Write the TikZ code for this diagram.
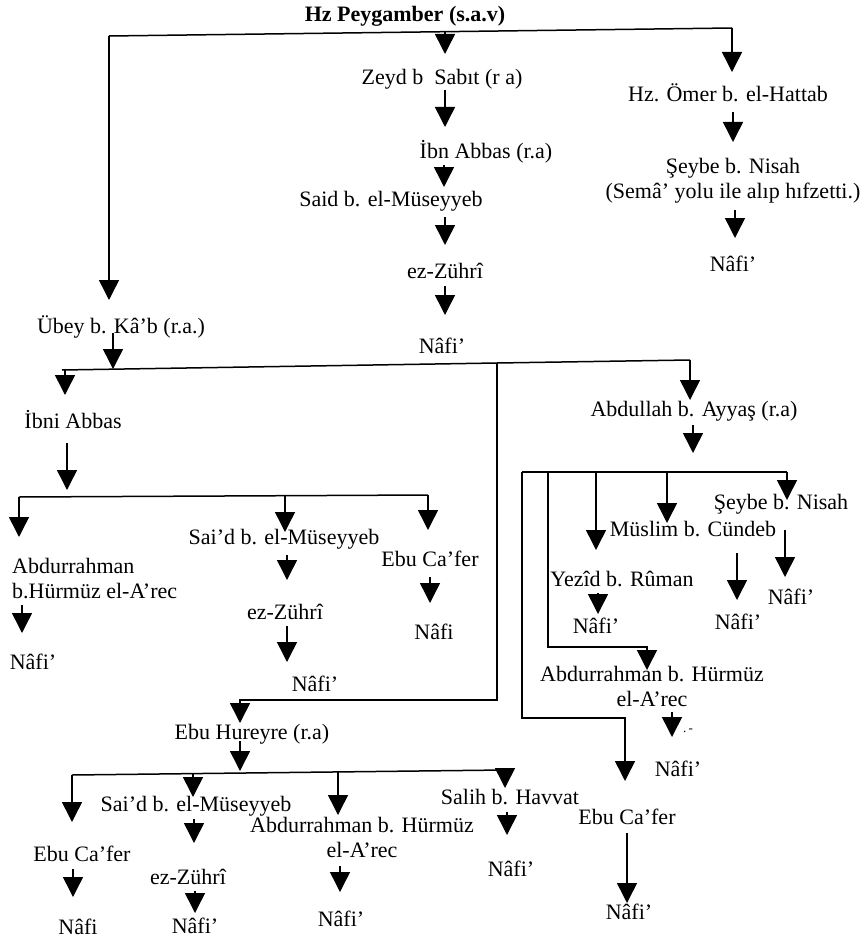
\documentclass[tikz,border=0pt]{standalone}
\usepackage{fontspec}
\setmainfont{Liberation Serif}
\usetikzlibrary{arrows.meta}
\newcommand{\vconn}[4]{%
  \coordinate (#1a) at (#2,#3);
  \coordinate (#1b) at (#2,#4);
  \draw[arr] (#1a) -- (#1b);}
\begin{document}
\begin{tikzpicture}[x=1pt,y=-1pt,
  font=\fontsize{22}{25}\selectfont,
  lbl/.style={inner sep=0pt, text height=15pt, text depth=2pt, anchor=center},
  lbltwo/.style={inner sep=0pt, align=center, anchor=center},
  lblleft/.style={inner sep=0pt, align=left, anchor=west},
  ln/.style={line width=1.5pt},
  arr/.style={line width=1.5pt, -{Triangle[width=20pt,length=20pt]}}]
\path[use as bounding box] (0,0) rectangle (864,939);

% ---------- top ----------
\node[lbl, font=\fontsize{22}{25}\selectfont\bfseries] (hz) at (405,15) {Hz Peygamber (s.a.v)};
\coordinate (tL) at (109,36);
\coordinate (tM) at (445,32);
\coordinate (tR) at (732,28);
\draw[ln] (tL) -- (tR);
\coordinate (ubeyIn) at (109,300);
\draw[arr] (tL) -- (ubeyIn);
\coordinate (zeydIn) at (445,54);
\draw[arr] (tM) -- (zeydIn);
\coordinate (omerIn) at (732,72);
\draw[arr] (tR) -- (omerIn);

% middle column
\node[lbl] (zeyd) at (442,78) {Zeyd b\ \ Sabıt (r a)};
\vconn{m1}{445}{90}{127}
\node[lbl] (ibnabbas) at (486,152) {İbn Abbas (r.a)};
\vconn{m2}{444}{165}{187}
\node[lbl] (said) at (391,200) {Said b. el-Müseyyeb};
\vconn{m3}{445}{217}{245}
\node[lbl] (zuhriA) at (445,272) {ez-Zührî};
\vconn{m4}{445}{286}{315}
\node[lbl] (nafiA) at (442,347) {Nâfi’};

% right column
\node[lbl] (omer) at (728,95) {Hz. Ömer b. el-Hattab};
\vconn{r1}{733}{112}{142}
\node[lbltwo] (seybeA) at (733,181) {Şeybe b. Nisah\\(Semâ’ yolu ile alıp hıfzetti.)};
\vconn{r2}{735}{210}{238}
\node[lbl] (nafiB) at (733,265) {Nâfi’};

% ---------- Ubey ----------
\node[lbl] (ubey) at (121,327) {Übey b. Kâ’b (r.a.)};
\vconn{u1}{113}{333}{369}
\coordinate (bL) at (62,370);
\coordinate (bM) at (497,363);
\coordinate (bR) at (690,360);
\draw[ln] (bL) -- (bM) -- (bR);
\coordinate (ayyasIn) at (690,400);
\draw[arr] (bR) -- (ayyasIn);

% left branch: Ibni Abbas
\coordinate (ibniTop) at (65,370);
\coordinate (ibniIn) at (65,395);
\draw[arr] (ibniTop) -- (ibniIn);
\node[lbl] (ibni) at (73,422) {İbni Abbas};
\vconn{l1}{67}{443}{490}
\coordinate (cL) at (19,497);
\coordinate (cM) at (285,496);
\coordinate (cR) at (428,495);
\draw[ln] (cL) -- (cR);
\coordinate (abdrAIn) at (19,537);
\draw[arr] (cL) -- (abdrAIn);
\coordinate (saidBIn) at (285,532);
\draw[arr] (cM) -- (saidBIn);
\coordinate (cafAIn) at (428,530);
\draw[arr] (cR) -- (cafAIn);

\node[lblleft] (abdrA) at (12,579) {Abdurrahman\\b.Hürmüz el-A’rec};
\vconn{l2}{22}{605}{633}
\node[lbl] (nafiC) at (33,663) {Nâfi’};

\node[lbl] (saidB) at (284,538) {Sai’d b. el-Müseyyeb};
\vconn{l3}{287}{555}{580}
\node[lbl] (zuhriB) at (285,613) {ez-Zührî};
\vconn{l4}{287}{626}{662}
\node[lbl] (nafiD) at (315,685) {Nâfi’};

\node[lbl] (cafA) at (430,560) {Ebu Ca’fer};
\vconn{l5}{430}{577}{603}
\node[lbl] (nafiE) at (434,633) {Nâfi};

% Ebu Hureyre branch
\coordinate (hV) at (497,700);
\coordinate (hH) at (240,700);
\coordinate (hureyreIn) at (240,723);
\draw[arr] (bM) -- (hV) -- (hH) -- (hureyreIn);
\node[lbl] (hureyre) at (252,733) {Ebu Hureyre (r.a)};
\vconn{h1}{240}{741}{771}
\coordinate (dL) at (72,775);
\coordinate (dA) at (193,774);
\coordinate (dB) at (338,772);
\coordinate (dR) at (505,770);
\draw[ln] (dL) -- (dR);
\coordinate (cafBIn) at (72,822);
\draw[arr] (dL) -- (cafBIn);
\coordinate (saidCIn) at (193,797);
\draw[arr] (dA) -- (saidCIn);
\coordinate (abdrBIn) at (338,815);
\draw[arr] (dB) -- (abdrBIn);
\coordinate (salihIn) at (505,788);
\draw[arr] (dR) -- (salihIn);

\node[lbl] (cafB) at (82,855) {Ebu Ca’fer};
\vconn{h2}{73}{869}{897}
\node[lbl] (nafiF) at (78,928) {Nâfi};

\node[lbl] (saidC) at (196,805) {Sai’d b. el-Müseyyeb};
\vconn{h3}{194}{819}{843}
\node[lbl] (zuhriC) at (188,878) {ez-Zührî};
\vconn{h4}{195}{891}{913}
\node[lbl] (nafiG) at (195,927) {Nâfi’};

\node[lbltwo] (abdrB) at (362,837) {Abdurrahman b. Hürmüz\\el-A’rec};
\vconn{h5}{340}{866}{892}
\node[lbl] (nafiH) at (341,920) {Nâfi’};

\node[lbl] (salih) at (510,798) {Salih b. Havvat};
\vconn{h6}{507}{812}{835}
\node[lbl] (nafiI) at (511,870) {Nâfi’};

% ---------- Abdullah b. Ayyas ----------
\node[lbl] (ayyas) at (694,410) {Abdullah b. Ayyaş (r.a)};
\vconn{a1}{693}{425}{453}
\coordinate (eA) at (522,472);
\coordinate (eB) at (548,472);
\coordinate (eC) at (596,472);
\coordinate (eD) at (667,472);
\coordinate (eE) at (787,472);
\draw[ln] (eA) -- (eE);

% far left: Ebu Ca'fer
\coordinate (eA1) at (522,718);
\coordinate (eA2) at (625,718);
\coordinate (cafCIn) at (625,781);
\draw[arr] (eA) -- (eA1) -- (eA2) -- (cafCIn);
\node[lbl] (cafC) at (627,818) {Ebu Ca’fer};
\vconn{e1}{627}{833}{903}
\node[lbl] (nafiJ) at (629,913) {Nâfi’};

% Abdurrahman b. Hurmuz
\coordinate (eB1) at (548,647);
\coordinate (eB2) at (647,647);
\coordinate (abdrCIn) at (647,670);
\draw[arr] (eB) -- (eB1) -- (eB2) -- (abdrCIn);
\node[lbltwo] (abdrC) at (652,686) {Abdurrahman b. Hürmüz\\el-A’rec};
\vconn{e2}{672}{712}{737}
\node[inner sep=0pt, font=\fontsize{13}{14}\selectfont] (mark) at (688,731) {.\,-};
\node[lbl] (nafiK) at (678,770) {Nâfi’};

% Yezid b. Ruman
\coordinate (yezidIn) at (596,550);
\draw[arr] (eC) -- (yezidIn);
\node[lbl] (yezid) at (622,580) {Yezîd b. Rûman};
\vconn{e3}{598}{593}{614}
\node[lbl] (nafiL) at (596,627) {Nâfi’};

% Muslim b. Cundeb
\coordinate (muslimIn) at (667,523);
\draw[arr] (eD) -- (muslimIn);
\node[lbl] (muslim) at (693,530) {Müslim b. Cündeb};
\vconn{e4}{737}{553}{600}
\node[lbl] (nafiM) at (738,623) {Nâfi’};

% Seybe b. Nisah
\coordinate (seybeBIn) at (787,500);
\draw[arr] (eE) -- (seybeBIn);
\node[lbl] (seybeB) at (781,503) {Şeybe b. Nisah};
\vconn{e5}{785}{530}{577}
\node[lbl] (nafiN) at (791,598) {Nâfi’};
\end{tikzpicture}
\end{document}
